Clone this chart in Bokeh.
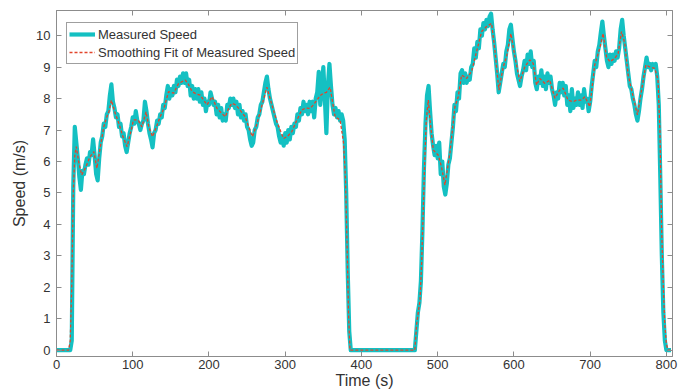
import numpy as np
from bokeh.plotting import figure
from bokeh.models import LinearAxis, Range1d, FixedTicker, CustomJSTickFormatter, Legend, LegendItem
from bokeh.embed import file_html
from bokeh.resources import INLINE

# ---- data -----------------------------------------------------------------
SAMPLE_STEP = 2  # seconds between logged speed samples

# first driving leg, samples starting at t = 20 s
run1_start = 20
run1_speed = [
    0.3, 5.2, 7.1, 6.6, 6.1, 5.5, 5.1, 5.7, 5.6, 5.9,
    6.1, 5.9, 6.3, 6.2, 6.7, 6.2, 5.6, 5.4, 6.1, 6.6,
    6.8, 7.2, 7.1, 7.5, 7.6, 8.1, 8.45, 7.9, 7.7, 7.4,
    7.5, 7.1, 7.2, 6.8, 6.9, 6.5, 6.3, 6.6, 6.9, 7.1,
    7.4, 7.2, 7.6, 7.3, 7.2, 7.0, 7.2, 7.3, 7.9, 7.6,
    7.2, 6.9, 6.7, 6.45, 6.9, 7.0, 7.3, 7.2, 7.5, 7.4,
    7.8, 7.7, 8.1, 8.4, 8.0, 8.3, 8.1, 8.4, 8.2, 8.6,
    8.4, 8.7, 8.5, 8.8, 8.5, 8.8, 8.4, 8.6, 8.1, 8.4,
    8.0, 8.3, 8.0, 8.3, 7.9, 8.2, 7.8, 8.0, 7.6, 7.9,
    7.8, 8.2, 8.0, 7.8, 7.9, 7.5, 7.8, 7.4, 7.7, 7.3,
    7.5, 7.3, 7.8, 7.7, 8.0, 7.8, 8.0, 7.7, 7.9, 7.5,
    7.8, 7.4, 7.6, 7.3, 7.5, 7.1, 7.0, 6.7, 6.5, 6.6,
    7.0, 7.1, 7.4, 7.5, 7.8, 7.9, 8.2, 8.5, 8.7, 8.3,
    8.0, 7.8, 7.6, 7.4, 7.2, 7.1, 6.8, 6.6, 6.8, 6.5,
    6.9, 6.6, 7.0, 6.7, 7.1, 6.9, 7.2, 7.1, 7.5, 7.3,
    7.7, 7.5, 7.9, 7.6, 7.8, 7.5, 7.9, 7.6, 7.9, 7.4,
    8.0, 8.2, 8.85, 7.8, 8.3, 9.0, 8.0, 6.9, 8.4, 9.1,
    8.4, 7.8, 7.5, 7.7, 7.4, 7.6, 7.3, 7.5, 7.3, 6.7,
    5.0, 2.5, 0.6,
]

# second driving leg, samples starting at t = 472 s
run2_start = 472
run2_speed = [
    0.6, 1.2, 1.5, 2.2, 3.8, 5.8, 7.2, 8.1, 8.4, 7.6,
    6.9, 6.5, 6.2, 6.5, 6.1, 6.6, 5.6, 6.0, 5.2, 4.95,
    5.3, 5.9, 6.1, 6.6, 7.1, 7.8, 7.6, 8.2, 8.0, 8.8,
    8.9, 8.5, 8.8, 8.5, 8.7, 8.6, 9.0, 9.1, 9.6, 9.3,
    9.8, 9.6, 10.2, 10.0, 10.4, 10.2, 10.5, 10.3, 10.6, 10.7,
    10.2, 9.8, 9.3, 8.8, 8.2, 8.5, 8.8, 9.1, 9.0, 9.5,
    9.7, 10.2, 10.35, 9.9, 9.5, 9.2, 8.8, 8.6, 8.4, 8.7,
    8.9, 9.2, 8.9, 9.4, 9.1, 9.5, 9.0, 9.2, 8.5, 8.3,
    8.7, 8.5, 8.9, 8.4, 8.7, 8.3, 8.8, 8.5, 8.7, 8.3,
    8.1, 7.8, 8.2, 8.0, 8.5, 8.2, 8.5, 8.1, 8.4, 7.8,
    8.1, 7.6, 8.3, 7.7, 8.0, 7.8, 8.2, 7.8, 8.1, 7.7,
    8.3, 7.9, 8.0, 7.6, 7.9, 8.4, 8.8, 9.2, 9.0, 9.5,
    9.7, 10.1, 10.45, 10.0, 9.6, 9.2, 9.0, 9.4, 9.1, 9.4,
    9.2, 9.5, 9.3, 9.6, 10.2, 10.5, 10.0, 9.6, 9.2, 8.8,
    8.4, 8.3, 8.0, 7.8, 7.5, 7.3, 7.6, 8.0, 8.3, 8.7,
    9.0, 9.3, 9.0, 9.1, 8.9, 9.1, 9.0, 9.1, 8.7, 7.8,
    5.5, 3.0, 1.2, 0.3, 0.0,
]

# stationary periods (speed 0) between the legs: start and end times
idle_periods = [(0, 18), (386, 470), (802, 806)]

# smoothing fit of the measured speed
fit_time = [
    0, 16, 18, 20, 22, 24, 26, 29, 33, 38, 44, 49, 53, 57, 62, 66, 69, 72, 77,
    82, 87, 92.6, 97, 101, 107, 112, 117.5, 121, 126, 131, 136, 141, 147, 153.7,
    160, 169, 173, 178, 183, 188.6, 193, 197.4, 204, 210.5, 216, 221.4, 226, 230,
    235, 239, 247.6, 252, 257, 263, 269, 276, 282.5, 290, 297.8, 303, 308.7, 315,
    321.8, 327, 332.7, 337, 341.5, 346, 350, 354, 358.9, 362, 365.5, 372, 376.5,
    379, 381, 383, 385, 470, 472.5, 476.8, 479, 480.5, 483, 485, 487.7, 490,
    494.3, 500.8, 505, 509.5, 516, 522.6, 527, 531.4, 537.9, 544.5, 551, 557.6,
    564, 570.7, 575, 580.3, 586, 590.3, 596, 601.3, 607.8, 614.3, 620.9, 625.3,
    629.7, 634, 640.6, 647, 653.7, 660, 664.6, 671, 677.7, 682, 688.6, 693, 699.5,
    706, 712.6, 717, 721.4, 725.8, 732.3, 736.7, 741.1, 745.4, 749.8, 756.4, 762,
    767.4, 773, 778, 784.8, 789, 791.5, 793.6, 796, 797.8, 800, 802, 806,
]
fit_speed = [
    0, 0, 0.3, 2.0, 5.0, 6.2, 6.47, 6.0, 5.57, 5.8, 6.15, 6.31, 5.78, 6.4, 7.1,
    7.42, 7.6, 7.95, 7.53, 7.2, 6.8, 6.47, 6.9, 7.32, 7.32, 7.1, 7.58, 7.1, 6.79,
    7.1, 7.42, 7.7, 8.22, 8.17, 8.48, 8.59, 8.45, 8.22, 8.15, 8.11, 7.95, 7.8,
    8.06, 7.69, 7.55, 7.42, 7.7, 7.85, 7.8, 7.69, 7.42, 7.1, 6.79, 7.2, 7.74,
    8.36, 7.8, 7.2, 6.73, 6.8, 6.95, 7.3, 7.64, 7.7, 7.69, 7.8, 7.95, 8.1, 8.17,
    8.2, 8.36, 7.9, 7.42, 7.32, 6.6, 5.5, 3.5, 1.2, 0, 0, 0.85, 1.6, 2.8, 4.0,
    6.0, 7.3, 7.95, 7.3, 6.36, 6.2, 5.83, 5.25, 6.26, 7.74, 8.06, 8.75, 8.64,
    8.86, 9.49, 10.13, 10.29, 10.39, 9.55, 8.27, 9.01, 9.33, 10.07, 9.33, 8.54,
    9.01, 9.23, 9.12, 8.43, 8.64, 8.48, 8.59, 8.01, 8.27, 8.33, 7.95, 7.9, 7.95,
    7.95, 8.06, 7.74, 9.07, 9.6, 10.07, 9.33, 9.17, 9.28, 9.44, 10.13, 9.76,
    8.75, 8.06, 7.48, 8.27, 9.07, 9.01, 8.96, 8.59, 7.0, 4.0, 2.0, 0.85, 0.2, 0,
    0,
]

x_ticks = [0, 100, 200, 300, 400, 500, 600, 700, 800]
y_ticks = [0, 1, 2, 3, 4, 5, 6, 7, 8, 9, 10]

# ---- assemble the measured trace in time order ----------------------------
def leg_times(start, values):
    return list(start + SAMPLE_STEP * np.arange(len(values)))

segments = [
    (list(idle_periods[0]), [0.0, 0.0]),
    (leg_times(run1_start, run1_speed), run1_speed),
    (list(idle_periods[1]), [0.0, 0.0]),
    (leg_times(run2_start, run2_speed), run2_speed),
    (list(idle_periods[2]), [0.0, 0.0]),
]
meas_t, meas_v = [], []
for ts, vs in segments:
    meas_t += [float(t) for t in ts]
    meas_v += [float(v) for v in vs]

# ---- figure ---------------------------------------------------------------
FONT = "Liberation Sans"
AXIS_GREY = "#8c8c8c"
TEXT_DARK = "#333333"
CYAN = "#14c0c2"
RED = "#e2452b"

p = figure(
    width=683, height=391,
    x_range=Range1d(0, 808), y_range=Range1d(-0.2, 10.8),
    output_backend="svg", toolbar_location=None,
    min_border_left=56, min_border_right=11, min_border_top=10, min_border_bottom=34,
    background_fill_color="white", border_fill_color="white",
)
p.grid.visible = False
p.outline_line_color = AXIS_GREY
p.outline_line_width = 1

meas = p.line(meas_t, meas_v, line_color=CYAN, line_width=4.2, line_join="round")
fit = p.line(fit_time, fit_speed, line_color=RED, line_width=1.3, line_dash="3 2")

def style_axis(ax, ticks):
    ax.ticker = FixedTicker(ticks=ticks)
    ax.axis_line_color = AXIS_GREY
    ax.major_tick_line_color = AXIS_GREY
    ax.major_tick_in = 5
    ax.major_tick_out = 0
    ax.minor_tick_line_color = None
    ax.major_label_text_font = FONT
    ax.major_label_text_font_size = "13px"
    ax.major_label_text_color = TEXT_DARK
    ax.axis_label_text_font = FONT
    ax.axis_label_text_font_style = "normal"
    ax.axis_label_text_font_size = "16px"
    ax.axis_label_text_color = TEXT_DARK

xa = p.xaxis[0]
style_axis(xa, x_ticks)
xa.axis_label = "Time (s)"
xa.major_label_standoff = 3
xa.axis_label_standoff = 0

ya = p.yaxis[0]
style_axis(ya, y_ticks)
ya.axis_label = "Speed (m/s)"
ya.major_label_standoff = 6
ya.axis_label_standoff = 5

# box-style frame: tick marks on the top and right edges too, without labels
blank = CustomJSTickFormatter(code="return ''")
top = LinearAxis(formatter=blank)
right = LinearAxis(formatter=blank)
style_axis(top, x_ticks)
style_axis(right, y_ticks)
for ax in (top, right):
    ax.major_label_standoff = 0
    ax.major_label_text_font_size = "1px"
p.add_layout(top, "above")
p.add_layout(right, "right")

legend = Legend(
    items=[
        LegendItem(label="Measured Speed", renderers=[meas]),
        LegendItem(label="Smoothing Fit of Measured Speed", renderers=[fit]),
    ],
    location=(10, 292),
    label_text_font=FONT, label_text_font_size="13px", label_text_color=TEXT_DARK,
    glyph_width=26, glyph_height=18, label_height=18, label_standoff=3,
    spacing=0, padding=2, margin=0,
    border_line_color="#404040", border_line_width=1,
    background_fill_color="white", background_fill_alpha=1.0,
)
p.add_layout(legend, "center")

open("out.html", "w").write(file_html(p, INLINE))
